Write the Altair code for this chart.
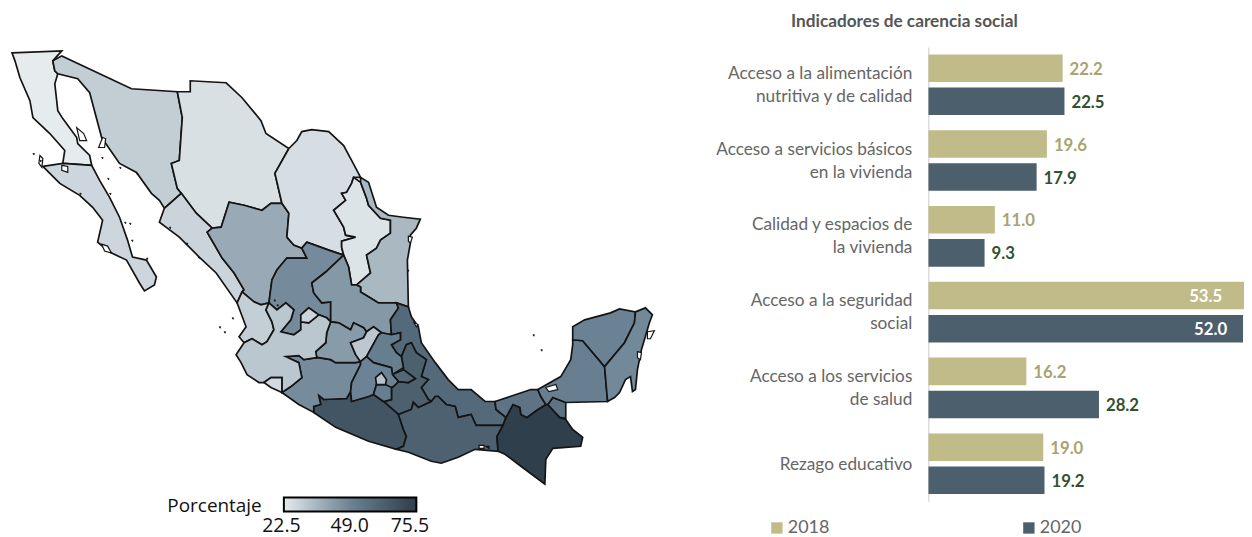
import altair as alt
import pandas as pd

# ---- indicator bars
INDICATORS = ["Acceso a la alimentación|nutritiva y de calidad", "Acceso a servicios básicos|en la vivienda",
              "Calidad y espacios de|la vivienda", "Acceso a la seguridad|social",
              "Acceso a los servicios|de salud", "Rezago educativo"]
Y2018 = [22.2, 19.6, 11.0, 53.5, 16.2, 19.0]
Y2020 = [22.5, 17.9, 9.3, 52.0, 28.2, 19.2]
TITLE = "Indicadores de carencia social"
LEGEND_TICKS = [22.5, 49.0, 75.5]

# ---- state values (percent) and outlines (map units)
VALUES = {"BC": 22.5, "BCS": 27.6, "Son": 29.9, "Chih": 25.3, "Sin": 28.1, "Dgo": 38.7, "Coah": 25.6, "Zac": 46.8,
          "NL": 24.3, "Tamps": 35.1, "SLP": 43.4, "Ver": 58.6, "Pue": 62.4, "Gro": 66.4, "Oax": 61.7, "Chis": 75.5,
          "Tab": 54.5, "Camp": 50.5, "Yuc": 49.5, "QRoo": 47.5, "Mich": 46.5, "Gto": 42.7, "Qro": 31.3, "Hgo": 50.8,
          "Tlax": 59.3, "Mex": 48.9, "Mor": 50.9, "CDMX": 32.6, "Nay": 29.6, "Jal": 31.4, "Ags": 27.6, "Col": 26.7}

OUTLINES = {
 "BC": [(12,52),(62,50),(53,60),(55,70),(58,73),(55,83),(58,110),(63,118),(77,137),(78,143),(90,155),(92,165),(63,163),(65,150),(50,133),(33,117),(30,100),(20,77),(15,60)],
 "Son": [(53,60),(62,55),(132,88),(178,91),(183,117),(180,160),(172,163),(178,188),(182,193),(165,208),(160,200),(152,193),(137,172),(120,163),(102,137),(90,92),(78,78),(58,73),(55,70)],
 "BCS": [(43,166),(63,163),(92,165),(100,180),(110,197),(120,217),(128,240),(133,257),(147,260),(157,277),(155,285),(145,291),(140,283),(127,260),(110,252),(98,242),(103,220),(93,207),(80,195),(60,183),(50,173)],
 "Chih": [(178,91),(191,91),(191,80),(227,82),(243,97),(262,120),(267,133),(290,148),(276,173),(283,203),(272,203),(263,210),(245,205),(230,202),(222,227),(213,228),(197,213),(182,193),(178,188),(172,163),(180,160),(183,117)],
 "Sin": [(182,193),(197,213),(213,228),(208,232),(223,258),(235,273),(245,290),(243,292),(238,303),(217,273),(200,257),(180,237),(160,222),(165,208)],
 "Dgo": [(208,232),(213,228),(222,227),(230,202),(245,205),(263,210),(272,203),(283,203),(290,213),(288,237),(295,245),(303,248),(308,258),(288,258),(278,270),(273,280),(270,303),(262,305),(255,302),(243,292),(245,290),(235,273),(223,258)],
 "Coah": [(290,148),(298,140),(303,131),(313,129),(330,131),(345,145),(353,160),(362,177),(355,177),(353,183),(348,192),(343,193),(347,200),(335,210),(345,227),(347,235),(357,237),(343,241),(343,247),(345,255),(330,250),(308,242),(303,248),(295,245),(288,237),(290,213),(283,203),(276,173)],
 "Zac": [(308,242),(330,250),(345,255),(327,272),(313,283),(315,293),(323,303),(332,302),(332,313),(332,322),(328,318),(320,315),(310,308),(302,315),(302,322),(302,330),(295,335),(282,332),(292,320),(295,310),(287,303),(278,310),(270,303),(273,280),(278,270),(288,258),(308,258),(303,248)],
 "NL": [(345,255),(343,247),(343,241),(357,237),(347,235),(345,227),(335,210),(347,200),(343,193),(348,192),(353,183),(355,177),(362,182),(368,198),(370,205),(382,218),(392,220),(392,233),(382,240),(378,248),(368,255),(372,273),(358,285),(353,285),(350,267)],
 "Tamps": [(362,177),(370,182),(378,207),(390,215),(405,217),(422,219),(418,228),(412,235),(412,243),(409,260),(410,307),(398,303),(380,303),(372,298),(362,292),(362,287),(358,285),(372,273),(368,255),(378,248),(382,240),(392,233),(392,220),(382,218),(370,205),(368,198),(362,182)],
 "SLP": [(345,255),(350,267),(353,285),(358,285),(362,287),(362,292),(372,298),(380,303),(398,303),(400,308),(392,320),(393,335),(383,333),(375,327),(368,332),(365,328),(355,323),(352,330),(340,323),(332,322),(332,313),(332,302),(323,303),(315,293),(313,283),(327,272)],
 "Ver": [(398,303),(410,307),(413,317),(420,327),(423,343),(437,363),(450,380),(460,390),(473,390),(487,402),(497,402),(498,410),(508,418),(505,426),(478,426),(473,415),(460,418),(457,407),(448,405),(440,397),(437,397),(433,402),(430,400),(423,388),(430,380),(423,377),(428,360),(418,353),(413,343),(408,345),(403,357),(398,353),(393,345),(402,340),(402,333),(393,335),(392,320),(400,308)],
 "Pue": [(403,357),(408,345),(413,343),(418,353),(428,360),(423,377),(430,380),(423,388),(430,400),(433,402),(420,408),(415,403),(413,410),(400,415),(385,402),(393,400),(393,388),(395,387),(400,382),(410,383),(417,379),(405,370),(405,368)],
 "Gro": [(315,413),(315,407),(322,405),(320,396),(325,400),(348,399),(352,392),(353,402),(370,397),(375,395),(385,402),(400,415),(405,430),(408,437),(405,447),(398,450),(370,442),(337,428)],
 "Oax": [(400,415),(413,410),(415,403),(420,408),(433,402),(437,397),(440,397),(448,405),(457,407),(460,418),(473,415),(478,426),(505,426),(499,437),(500,452),(477,450),(460,458),(443,464),(433,462),(410,453),(398,450),(405,447),(408,437),(405,430)],
 "Chis": [(505,426),(508,418),(515,405),(522,408),(523,415),(529,418),(540,410),(548,405),(550,405),(562,418),(568,420),(575,430),(585,438),(583,447),(555,449),(548,460),(547,485),(523,467),(507,455),(500,452),(499,437)],
 "Tab": [(497,402),(512,397),(533,390),(540,390),(543,397),(548,405),(540,410),(529,418),(523,415),(522,408),(515,405),(508,418),(498,410)],
 "Tab2": [(550,405),(555,398),(568,403),(568,419),(562,418)],
 "Camp": [(540,390),(563,377),(573,360),(575,345),(575,340),(585,341),(607,367),(610,402),(568,403),(555,398),(550,405),(548,405),(543,397)],
 "Yuc": [(575,340),(575,327),(587,320),(613,313),(622,309),(638,312),(637,323),(627,343),(607,367),(585,341)],
 "QRoo": [(638,312),(648,308),(655,315),(652,323),(644,350),(640,370),(638,390),(635,392),(633,377),(628,380),(622,393),(617,398),(610,402),(607,367),(627,343),(637,323)],
 "Mich": [(283,393),(292,387),(303,378),(300,363),(287,357),(300,356),(305,360),(318,358),(320,358),(332,360),(337,363),(357,363),(362,362),(362,365),(353,383),(352,392),(348,399),(325,400),(320,396),(322,405),(315,407),(315,413),(300,405)],
 "Gto": [(332,322),(340,323),(352,330),(355,323),(365,328),(368,332),(365,338),(352,343),(357,355),(362,362),(357,363),(337,363),(332,360),(320,358),(318,358),(317,352),(327,343),(328,333)],
 "Qro": [(375,327),(383,333),(380,335),(368,357),(362,362),(357,355),(352,343),(365,338),(368,332)],
 "Hgo": [(383,333),(393,335),(402,333),(402,340),(393,345),(398,353),(403,357),(405,368),(394,375),(393,368),(382,365),(375,363),(368,357),(380,335)],
 "Tlax": [(394,375),(405,370),(417,379),(410,383),(400,382)],
 "Mex": [(362,362),(368,357),(375,363),(382,365),(393,368),(394,375),(400,382),(395,387),(393,388),(378,385),(375,395),(370,397),(353,402),(352,392),(353,383),(362,365)],
 "Mor": [(378,385),(387,385),(393,388),(393,400),(385,402),(375,395)],
 "CDMX": [(383,373),(388,380),(387,385),(378,385),(377,378)],
 "Nay": [(243,292),(255,302),(262,305),(270,303),(267,310),(273,322),(275,330),(268,342),(263,345),(253,339),(245,343),(240,337),(247,327),(238,303)],
 "Jal": [(270,303),(278,310),(287,303),(295,310),(292,320),(282,332),(295,335),(302,330),(302,322),(310,323),(320,315),(328,318),(332,322),(328,333),(327,343),(317,352),(318,358),(305,360),(300,356),(287,357),(300,363),(303,378),(292,387),(283,393),(283,378),(272,378),(265,383),(260,383),(248,375),(242,363),(237,355),(245,343),(253,339),(263,345),(268,342),(275,330),(273,322),(267,310)],
 "Ags": [(302,322),(302,315),(310,308),(320,315),(310,323)],
 "Col": [(265,383),(272,378),(283,378),(283,393),(272,388)],
}
LAGOONS = [
 [(40,155),(43,158),(42,167),(39,163)], [(77,127),(84,133),(87,140),(80,140)], [(103,137),(106,138),(105,147),(99,147)],
 [(102,244),(108,246),(112,253),(105,251)], [(548,388),(558,385),(560,390),(551,392)], [(650,332),(657,331),(653,339),(650,339)],
 [(410,236),(414,237),(412,243),(410,241)], [(415,322),(420,325),(418,327)], [(481,446),(486,446),(486,449),(481,449)],
 [(488,447),(491,447),(491,449)], [(62,165),(68,166),(68,172),(62,170)], [(640,352),(644,353),(643,360),(640,358)],
]
SPECKS = [(33,153),(102,157),(120,167),(137,173),(108,178),(110,193),(125,222),(130,223),(132,240),(147,258),(170,227),
          (187,243),(199,257),(220,327),(225,332),(233,318),(535,335),(543,350),(80,193),(275,300),(278,305),(409,270),(40,160)]

def feature(name, pts, value=None):
    ring = [list(p) for p in pts] + [list(pts[0])]
    return {"type": "Feature", "geometry": {"type": "Polygon", "coordinates": [ring]},
            "properties": {"name": name, "value": value}}

state_feats = [feature(k, v, VALUES[k.replace("2", "")]) for k, v in OUTLINES.items()]
lagoon_feats = [feature("l", p) for p in LAGOONS]
speck_feats = [feature("s", [(x, y), (x + 1.5, y), (x + 1, y + 1.5)]) for x, y in SPECKS]

FONT = "Open Sans"

states = alt.Chart(alt.Data(values=state_feats)).mark_geoshape(stroke="#141414", strokeWidth=1.7).encode(
    color=alt.Color("properties.value:Q",
                    scale=alt.Scale(domain=[22.5, 49, 75.5], range=["#e6ebee", "#6b8394", "#2f3f4b"]),
                    legend=alt.Legend(orient="none", legendX=160, legendY=490.5, direction="horizontal",
                                      title="Porcentaje", titleOrient="left", titleFont=FONT, titleFontSize=19,
                                      titleFontWeight="normal", titleColor="#111", titlePadding=22,
                                      titleBaseline="middle",
                                      gradientLength=133, gradientThickness=14, gradientStrokeColor="#000",
                                      gradientStrokeWidth=2, values=[])))
lagoons = alt.Chart(alt.Data(values=lagoon_feats)).mark_geoshape(fill="#ffffff", stroke="#141414", strokeWidth=1.2)
specks = alt.Chart(alt.Data(values=speck_feats)).mark_geoshape(fill="#141414", stroke="#141414", strokeWidth=0.8)
tick_df = pd.DataFrame({"t": [f"{v:.1f}" for v in LEGEND_TICKS], "lon": [282.5, 351, 411.5], "lat": [527, 527, 527]})
ticks = alt.Chart(tick_df).mark_text(font=FONT, fontSize=19.5, color="#111111").encode(
    longitude="lon:Q", latitude="lat:Q", text="t:N")
map_panel = (states + lagoons + specks + ticks).project(**{"type": "identity", "scale": 1, "translate": [-8, -8]}).properties(width=711, height=529)

# ---- bars
rows = []
for c, a, b in zip(INDICATORS, Y2018, Y2020):
    rows.append({"cat": c, "year": "2018", "v": a})
    rows.append({"cat": c, "year": "2020", "v": b})
df = pd.DataFrame(rows)

label_rows = []
for c in INDICATORS:
    parts = c.split("|")
    label_rows.append({"cat": c, "first": parts[0], "second": parts[1] if len(parts) > 1 else "", "n": len(parts)})
ldf = pd.DataFrame(label_rows)

y = alt.Y("cat:N", sort=INDICATORS, title=None,
          scale=alt.Scale(range=[38, 494.5], paddingInner=0, paddingOuter=0),
          axis=alt.Axis(ticks=False, labels=False, domainColor="#dcdcdc", domainWidth=1.5))
yo = alt.YOffset("year:N", scale=alt.Scale(paddingInner=0.167, paddingOuter=0.23))
x = alt.X("v:Q", title=None, axis=None, scale=alt.Scale(domain=[0, 52.16], nice=False, zero=True))

bars = alt.Chart(df).mark_bar(clip=True).encode(
    x=x, y=y, yOffset=yo,
    color=alt.Color("year:N", scale=alt.Scale(domain=["2018", "2020"], range=["#c0bb89", "#4c5f6d"]),
                    legend=alt.Legend(orient="none", legendX=-161, legendY=512, direction="horizontal", columns=2,
                                      title=None, symbolType="square", symbolSize=130, symbolStrokeWidth=0,
                                      labelFont="Lato", labelFontSize=18, labelColor="#666666",
                                      columnPadding=191, labelOffset=2)))
base = alt.Chart(df)
outside = base.transform_filter("datum.v < 50").mark_text(align="left", dx=7, dy=1.5, font="Lato", fontSize=16.8, fontWeight="bold").encode(
    x=x, y=y, yOffset=yo, text=alt.Text("v:Q", format=".1f"),
    color=alt.Color("year:N", scale=alt.Scale(domain=["2018", "2020"], range=["#a8a372", "#34502e"]), legend=None))
ins18 = base.transform_filter("datum.v > 50 && datum.year == '2018'").mark_text(align="right", dx=-30, dy=1, font="Lato", fontSize=16.8, fontWeight="bold", color="#ffffff").encode(
    x=x, y=y, yOffset=yo, text=alt.Text("v:Q", format=".1f"))
ins20 = base.transform_filter("datum.v > 50 && datum.year == '2020'").mark_text(align="right", dx=-16, dy=1, font="Lato", fontSize=16.8, fontWeight="bold", color="#ffffff").encode(
    x=x, y=y, yOffset=yo, text=alt.Text("v:Q", format=".1f"))

def row_labels(field, cond, dy):
    return alt.Chart(ldf).transform_filter(cond).mark_text(align="right", dy=dy, font="Lato", fontSize=17.3, color="#666666").encode(
        x=alt.value(-16), y=alt.Y("cat:N", sort=INDICATORS, title=None, scale=alt.Scale(range=[38, 494.5], paddingInner=0, paddingOuter=0)),
        text=f"{field}:N")

lab1 = row_labels("first", "datum.n == 2", -11)
lab2 = row_labels("second", "datum.n == 2", 12)
lab3 = row_labels("first", "datum.n == 1", 1)

title = alt.Chart(pd.DataFrame({"t": [TITLE]})).mark_text(font="Lato", fontSize=17.3, fontWeight="bold", color="#555555").encode(
    x=alt.value(-24), y=alt.value(13), text="t:N")

bar_panel = alt.layer(bars, outside, ins18, ins20, lab1, lab2, lab3, title).resolve_scale(color="independent").properties(width=317, height=529)

chart = alt.hconcat(map_panel, bar_panel, spacing=0).resolve_scale(color="independent").properties(padding=0).configure_view(stroke=None).configure_concat(spacing=0)
chart.save("out.html", embed_options={"renderer": "svg", "actions": False})
